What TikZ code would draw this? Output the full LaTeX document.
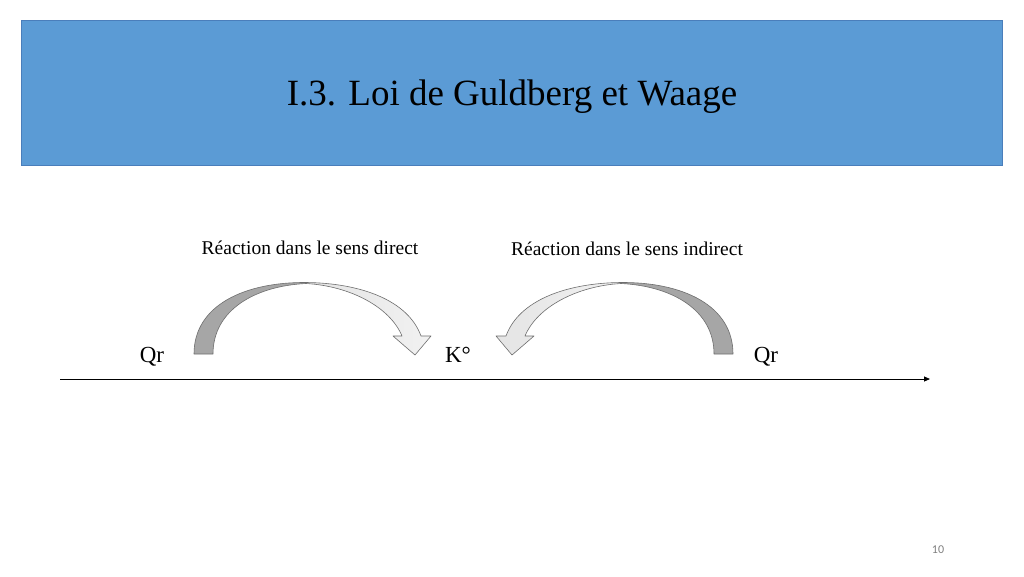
\documentclass[tikz,border=0pt]{standalone}
\usepackage{fontspec}
\setmainfont{Liberation Serif}
\newfontfamily\pagefont{Carlito}
\usetikzlibrary{arrows.meta}
\definecolor{titleblue}{HTML}{5B9BD5}
\definecolor{titleedge}{HTML}{4A7EBB}
\definecolor{arcdark}{HTML}{A6A6A6}
\definecolor{arclight}{HTML}{E4E4E4}
\definecolor{arcedge}{HTML}{6E6E6E}
\tikzset{
  lbl/.style={font=\fontsize{19.5}{22}\selectfont, inner sep=0pt, anchor=base},
  axlbl/.style={font=\fontsize{23}{26}\selectfont, inner sep=0pt, anchor=base},
  darkpart/.style={fill=arcdark, draw=arcedge, line width=0.6pt, line join=round},
  lightpart/.style={left color=arclight, right color=arclight!50!white, draw=arcedge, line width=0.6pt, line join=round},
}
\begin{document}
\begin{tikzpicture}[x=1pt,y=-1pt]
\useasboundingbox (0,0) rectangle (1024,576);
\fill[white] (0,0) rectangle (1024,576);
% title banner
\draw[fill=titleblue, draw=titleedge, line width=0.8pt] (21,20) rectangle (1002,165);
\node[font=\fontsize{37}{40}\selectfont, inner sep=0pt, anchor=base] (title) at (512,105) {I.3. Loi de Guldberg et Waage};
% labels
\node[lbl] (ldirect) at (310,254) {Réaction dans le sens direct};
\node[lbl] (lindirect) at (627,255) {Réaction dans le sens indirect};
\node[axlbl] (qr1) at (152,362) {Qr};
\node[axlbl] (k) at (458,362) {K°};
\node[axlbl] (qr2) at (766,362) {Qr};
% axis
\coordinate (axA) at (60,379);
\coordinate (axB) at (930,379);
\draw[line width=0.8pt, -{Triangle[length=6pt,width=5pt]}] (axA) -- (axB);
% curved arrows
\newcommand{\curvedarrow}{%
  \path[lightpart] (306,282.5) .. controls (360,283) and (408,300) .. (421,336)
     -- (431,336) -- (415,355) -- (393,336) -- (402,336)
     .. controls (390,307) and (350,286) .. (306,283.5) -- cycle;
  \path[darkpart] (194,354) .. controls (194,305) and (245,282) .. (306,282.5)
     -- (306,283.5) .. controls (255,286) and (213,310) .. (213,354) -- cycle;
}
\begin{scope}
\curvedarrow
\end{scope}
\begin{scope}[xshift=927pt, xscale=-1]
\curvedarrow
\end{scope}
% page number
\node[font=\pagefont\fontsize{12}{14}\selectfont, text=gray, inner sep=0pt] (pnum) at (938,550) {10};
\end{tikzpicture}
\end{document}
